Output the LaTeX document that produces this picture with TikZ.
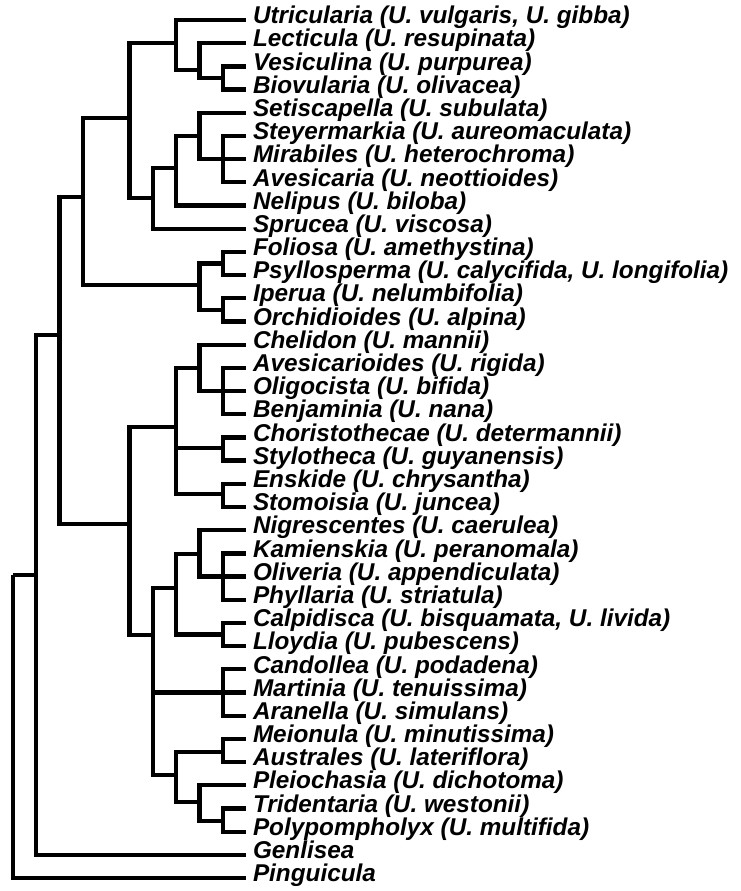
\documentclass[tikz,border=0pt]{standalone}
\usepackage{fontspec}
\setmainfont{Liberation Sans}
\begin{document}
\begin{tikzpicture}[x=1pt,y=-1pt,
  branch/.style={line width=4.3pt, line join=miter, line cap=butt},
  leaf/.style={anchor=west, inner xsep=7pt, inner ysep=0pt, outer sep=0pt,
    text height=0.87em, text depth=0.13em,
    font=\fontsize{24.3}{24.3}\selectfont\bfseries\itshape}]
\useasboundingbox (0,0) rectangle (741,891);
% leaves
\node[leaf] (L0)  at (246,20.00)  {Utricularia (U. vulgaris, U. gibba)};
\node[leaf] (L1)  at (246,43.19)  {Lecticula (U. resupinata)};
\node[leaf] (L2)  at (246,66.38)  {Vesiculina (U. purpurea)};
\node[leaf] (L3)  at (246,89.57)  {Biovularia (U. olivacea)};
\node[leaf] (L4)  at (246,112.76) {Setiscapella (U. subulata)};
\node[leaf] (L5)  at (246,135.95) {Steyermarkia (U. aureomaculata)};
\node[leaf] (L6)  at (246,159.14) {Mirabiles (U. heterochroma)};
\node[leaf] (L7)  at (246,182.33) {Avesicaria (U. neottioides)};
\node[leaf] (L8)  at (246,205.52) {Nelipus (U. biloba)};
\node[leaf] (L9)  at (246,228.71) {Sprucea (U. viscosa)};
\node[leaf] (L10) at (246,251.90) {Foliosa (U. amethystina)};
\node[leaf] (L11) at (246,275.09) {Psyllosperma (U. calycifida, U. longifolia)};
\node[leaf] (L12) at (246,298.28) {Iperua (U. nelumbifolia)};
\node[leaf] (L13) at (246,321.47) {Orchidioides (U. alpina)};
\node[leaf] (L14) at (246,344.66) {Chelidon (U. mannii)};
\node[leaf] (L15) at (246,367.85) {Avesicarioides (U. rigida)};
\node[leaf] (L16) at (246,391.04) {Oligocista (U. bifida)};
\node[leaf] (L17) at (246,414.23) {Benjaminia (U. nana)};
\node[leaf] (L18) at (246,437.42) {Choristothecae (U. determannii)};
\node[leaf] (L19) at (246,460.61) {Stylotheca (U. guyanensis)};
\node[leaf] (L20) at (246,483.80) {Enskide (U. chrysantha)};
\node[leaf] (L21) at (246,506.99) {Stomoisia (U. juncea)};
\node[leaf] (L22) at (246,530.18) {Nigrescentes (U. caerulea)};
\node[leaf] (L23) at (246,553.37) {Kamienskia (U. peranomala)};
\node[leaf] (L24) at (246,576.56) {Oliveria (U. appendiculata)};
\node[leaf] (L25) at (246,599.75) {Phyllaria (U. striatula)};
\node[leaf] (L26) at (246,622.94) {Calpidisca (U. bisquamata, U. livida)};
\node[leaf] (L27) at (246,646.13) {Lloydia (U. pubescens)};
\node[leaf] (L28) at (246,669.32) {Candollea (U. podadena)};
\node[leaf] (L29) at (246,692.51) {Martinia (U. tenuissima)};
\node[leaf] (L30) at (246,715.70) {Aranella (U. simulans)};
\node[leaf] (L31) at (246,738.89) {Meionula (U. minutissima)};
\node[leaf] (L32) at (246,762.08) {Australes (U. lateriflora)};
\node[leaf] (L33) at (246,785.27) {Pleiochasia (U. dichotoma)};
\node[leaf] (L34) at (246,808.46) {Tridentaria (U. westonii)};
\node[leaf] (L35) at (246,831.65) {Polypompholyx (U. multifida)};
\node[leaf] (L36) at (246,854.84) {Genlisea};
\node[leaf] (L37) at (246,878.03) {Pinguicula};
% internal nodes
\coordinate (vb)    at (222.7,78);
\coordinate (lvb)   at (199.4,70);
\coordinate (u1)    at (176,43);
\coordinate (sma)   at (222.7,159.14);
\coordinate (set)   at (199.4,136);
\coordinate (nel)   at (176,168);
\coordinate (spr)   at (152.8,198);
\coordinate (u12)   at (129.5,118);
\coordinate (fp)    at (222.7,263.5);
\coordinate (io)    at (222.7,309.9);
\coordinate (fpio)  at (199.4,285);
\coordinate (u123)  at (82.9,197);
\coordinate (bo)    at (222.7,391.04);
\coordinate (che)   at (199.4,368);
\coordinate (cs)    at (222.7,448);
\coordinate (es)    at (222.7,494);
\coordinate (chs)   at (176,427);
\coordinate (kop)   at (222.7,576.56);
\coordinate (nig)   at (199.4,554);
\coordinate (cl)    at (222.7,634.5);
\coordinate (nigcl) at (176,588);
\coordinate (cma)   at (222.7,692.51);
\coordinate (ma)    at (222.7,752);
\coordinate (tp)    at (222.7,821);
\coordinate (ptp)   at (199.4,802);
\coordinate (maptp) at (176,775);
\coordinate (big)   at (152.8,635);
\coordinate (chall) at (129.5,524);
\coordinate (utr)   at (59.6,335);
\coordinate (gen)   at (36.3,575);
\coordinate (root)  at (13,575);
% branches
\draw[branch]
  (vb) |- (L2.west) (vb) |- (L3.west)
  (lvb) |- (L1.west) (lvb) |- (vb)
  (u1) |- (L0.west) (u1) |- (lvb)
  (sma) |- (L5.west) (sma) |- (L6.west) (sma) |- (L7.west)
  (set) |- (L4.west) (set) |- (sma)
  (nel) |- (set) (nel) |- (L8.west)
  (spr) |- (nel) (spr) |- (L9.west)
  (u12) |- (u1) (u12) |- (spr)
  (fp) |- (L10.west) (fp) |- (L11.west)
  (io) |- (L12.west) (io) |- (L13.west)
  (fpio) |- (fp) (fpio) |- (io)
  (u123) |- (u12) (u123) |- (fpio)
  (bo) |- (L15.west) (bo) |- (L16.west) (bo) |- (L17.west)
  (che) |- (L14.west) (che) |- (bo)
  (cs) |- (L18.west) (cs) |- (L19.west)
  (es) |- (L20.west) (es) |- (L21.west)
  (chs) |- (che) (chs) |- (cs) (chs) |- (es)
  (kop) |- (L23.west) (kop) |- (L24.west) (kop) |- (L25.west)
  (nig) |- (L22.west) (nig) |- (kop)
  (cl) |- (L26.west) (cl) |- (L27.west)
  (nigcl) |- (nig) (nigcl) |- (cl)
  (cma) |- (L28.west) (cma) |- (L29.west) (cma) |- (L30.west)
  (ma) |- (L31.west) (ma) |- (L32.west)
  (tp) |- (L34.west) (tp) |- (L35.west)
  (ptp) |- (L33.west) (ptp) |- (tp)
  (maptp) |- (ma) (maptp) |- (ptp)
  (big) |- (nigcl) (big) |- (cma) (big) |- (maptp)
  (chall) |- (chs) (chall) |- (big)
  (utr) |- (u123) (utr) |- (chall)
  (gen) |- (utr) (gen) |- (L36.west)
  (root) |- (gen) (root) |- (L37.west);
\end{tikzpicture}
\end{document}
